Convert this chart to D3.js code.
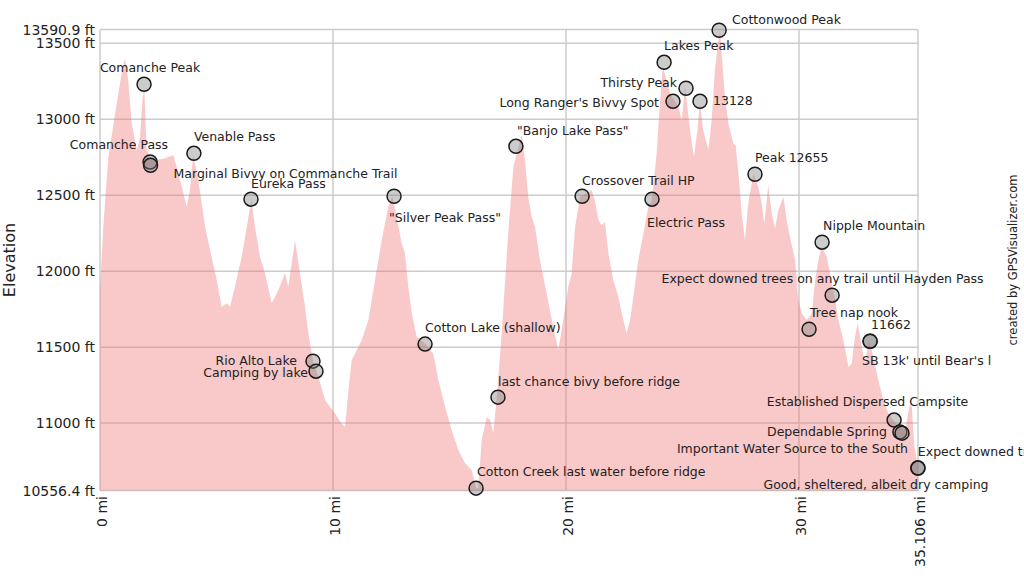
<!DOCTYPE html>
<html>
<head>
<meta charset="utf-8">
<script src="https://cdn.jsdelivr.net/npm/d3@7"></script>
<style>
  html, body { margin: 0; padding: 0; background: #fff; }
  svg { display: block; font-family: "DejaVu Sans", Verdana, sans-serif; }
</style>
</head>
<body>
<svg id="chart" width="1024" height="576"></svg>
<script>
// ---- data ----
const profileMiles = [0.00,0.14,0.36,0.72,0.93,1.07,1.21,1.36,1.58,1.72,1.82,1.90,2.00,2.15,2.36,2.79,3.15,3.29,3.51,3.72,3.86,4.00,4.22,4.51,4.79,5.01,5.22,5.44,5.58,5.79,6.08,6.30,6.44,6.50,6.65,6.87,7.08,7.37,7.65,7.94,8.08,8.37,8.58,8.80,8.94,9.15,9.37,9.66,10.09,10.37,10.52,10.66,10.80,11.23,11.52,11.80,12.09,12.37,12.55,12.73,12.95,13.09,13.23,13.38,13.59,13.95,14.30,14.52,14.81,15.09,15.38,15.67,15.95,16.14,16.24,16.38,16.60,16.74,16.88,17.03,17.24,17.52,17.74,17.96,18.10,18.24,18.38,18.53,18.67,18.88,19.17,19.45,19.67,19.88,20.10,20.24,20.39,20.60,21.10,21.24,21.39,21.53,21.67,21.82,22.03,22.24,22.46,22.60,22.75,22.89,23.10,23.32,23.53,23.68,23.89,24.03,24.15,24.32,24.46,24.82,24.97,25.11,25.32,25.49,25.64,25.75,25.89,26.11,26.25,26.39,26.54,26.61,26.68,26.82,26.97,27.18,27.28,27.40,27.54,27.68,27.82,28.04,28.25,28.40,28.51,28.68,28.83,28.97,29.11,29.33,29.47,29.61,29.83,29.97,30.12,30.33,30.55,30.69,30.83,30.97,31.19,31.33,31.55,31.69,31.90,32.12,32.26,32.40,32.52,32.69,32.83,33.00,33.19,33.40,33.62,33.83,34.26,34.55,34.76,34.84,34.95,35.106];
const profileElev = [11875,12291,12752,13105,13303,13401,13257,12974,12796,12884,13125,13213,12796,12752,12730,12743,12763,12686,12555,12423,12533,12763,12599,12291,12094,11941,11765,11789,11765,11897,12094,12291,12423,12474,12291,12094,11987,11789,11875,11987,11897,12204,11987,11765,11592,11403,11305,11151,11064,10998,10976,11217,11414,11546,11678,11941,12204,12423,12493,12357,12182,12116,11897,11722,11568,11524,11459,11283,11107,10954,10822,10735,10691,10572,10572,10888,11041,11020,10932,11173,11592,12250,12686,12818,12895,12730,12489,12357,12291,12072,11853,11634,11480,11678,11897,11985,12291,12489,12533,12467,12336,12303,12324,12116,11941,11831,11678,11590,11678,11831,12072,12248,12423,12467,12774,13103,13344,13257,13169,13081,12993,13213,12928,12752,12928,13103,12928,12796,12993,13322,13520,13586,13432,13147,12971,12840,12829,12643,12380,12204,12445,12643,12555,12445,12313,12566,12380,12281,12401,12489,12336,12226,12072,11809,11722,11678,11722,11941,12072,12160,12094,11985,11809,11678,11546,11370,11393,11568,11656,11502,11393,11546,11436,11283,11151,11064,10976,10954,11129,11107,10844,10712];

const waypointNames = ["Comanche Peak","Comanche Pass","Marginal Bivvy on Commanche Trail","Venable Pass","Eureka Pass","Rio Alto Lake","Camping by lake","\"Silver Peak Pass\"","Cotton Lake (shallow)","Cotton Creek last water before ridge","last chance bivy before ridge","\"Banjo Lake Pass\"","Crossover Trail HP","Electric Pass","Lakes Peak","Long Ranger's Bivvy Spot","Thirsty Peak","13128","Cottonwood Peak","Peak 12655","Nipple Mountain","Expect downed trees on any trail until Hayden Pass","Tree nap nook","11662","SB 13k' until Bear's l","Established Dispersed Campsite","Dependable Spring","Important Water Source to the South","Expect downed trees","Good, sheltered, albeit dry camping"];
const waypointMiles = [1.89,2.15,2.17,4.03,6.48,9.14,9.27,12.62,13.95,16.14,17.08,17.85,20.69,23.69,24.21,24.59,25.15,25.75,26.57,28.11,30.99,31.42,30.43,33.05,33.05,34.08,34.33,34.42,35.10,35.106];
const waypointElev = [13230,12719,12697,12776,12474,11408,11342,12493,11520,10572,11171,12822,12493,12474,13375,13118,13204,13118,13586,12638,12191,11842,11618,11539,11539,11020,10941,10934,10704,10704];

const yTickValues = [10556.4,11000,11500,12000,12500,13000,13500,13590.9];
const yTickLabels = ["10556.4 ft","11000 ft","11500 ft","12000 ft","12500 ft","13000 ft","13500 ft","13590.9 ft"];
const xTickValues = [0,10,20,30,35.106];
const xTickLabels = ["0 mi","10 mi","20 mi","30 mi","35.106 mi"];

// ---- label layout (offsets from marker centre, px) ----
const labelLayout = [
  [6,-12,"middle"],[18,-12.5,"end"],[23,12.5,"start"],[0,-12.5,"start"],[0,-11.5,"start"],
  [-16,3.5,"end"],[-8,5.5,"end"],[-5,25.5,"start"],[0,-12.5,"start"],[1,-12.5,"start"],
  [0,-11.5,"start"],[1,-11.5,"start"],[0,-11.5,"start"],[-5,27.5,"start"],[0,-12.5,"start"],
  [-14,5.5,"end"],[-9,-1.5,"end"],[13,3.5,"start"],[13,-6.5,"start"],[0,-12.5,"start"],
  [1,-12.5,"start"],[-9.5,-12.5,"middle"],[1,-12.5,"start"],[1,-12.5,"start"],[-8,23.5,"start"],
  [-26.5,-14.5,"middle"],[-13,3.5,"end"],[6,19.5,"end"],[0,-12.5,"start"],[-42,20.5,"middle"]
];

// ---- chart ----
const svg = d3.select("#chart");
const x = d3.scaleLinear().domain([0, 35.106]).range([100, 918]);
const y = d3.scaleLinear().domain([10556.4, 13590.9]).range([490.5, 29.5]);

const gridColor = "#cccccc";
const g = svg.append("g");

// horizontal grid
g.selectAll("line.hg").data(yTickValues).join("line")
  .attr("x1", x(0)).attr("x2", x(35.106))
  .attr("y1", d => y(d)).attr("y2", d => y(d))
  .attr("stroke", gridColor).attr("stroke-width", 1.5);
// vertical grid
g.selectAll("line.vg").data(xTickValues).join("line")
  .attr("x1", d => x(d)).attr("x2", d => x(d))
  .attr("y1", y(13590.9)).attr("y2", y(10556.4))
  .attr("stroke", gridColor).attr("stroke-width", 1.5);

// area profile
const profile = profileMiles.map((m, i) => ({ m, e: profileElev[i] }));
const area = d3.area().x(d => x(d.m)).y0(y(10556.4)).y1(d => y(d.e));
svg.append("path").datum(profile)
  .attr("d", area)
  .attr("fill", "rgb(240,110,110)")
  .attr("fill-opacity", 0.38);

// y tick labels
svg.append("g").selectAll("text").data(yTickValues).join("text")
  .attr("x", 95).attr("y", d => y(d)).attr("dy", "0.36em")
  .attr("text-anchor", "end").attr("font-size", 14).attr("fill", "#222")
  .text((d, i) => yTickLabels[i]);

// x tick labels (rotated)
svg.append("g").selectAll("text").data(xTickValues).join("text")
  .attr("transform", d => `translate(${x(d) + 7},496) rotate(-90)`)
  .attr("text-anchor", "end").attr("font-size", 14).attr("fill", "#222")
  .text((d, i) => xTickLabels[i]);

// axis title
svg.append("text")
  .attr("transform", "translate(15,260) rotate(-90)")
  .attr("text-anchor", "middle").attr("font-size", 16).attr("fill", "#222")
  .text("Elevation");

// credit
svg.append("text")
  .attr("transform", "translate(1017,260) rotate(-90)")
  .attr("text-anchor", "middle").attr("font-size", 11.5).attr("fill", "#222")
  .text("created by GPSVisualizer.com");

// waypoints
const wps = waypointNames.map((n, i) => ({ n, m: waypointMiles[i], e: waypointElev[i], l: labelLayout[i] }));
svg.append("g").selectAll("circle").data(wps).join("circle")
  .attr("cx", d => x(d.m)).attr("cy", d => y(d.e)).attr("r", 7)
  .attr("fill", "rgb(128,128,128)").attr("fill-opacity", 0.4)
  .attr("stroke", "#1a1a1a").attr("stroke-width", 1.5);

svg.append("g").selectAll("text").data(wps).join("text")
  .attr("x", d => x(d.m) + d.l[0]).attr("y", d => y(d.e) + d.l[1])
  .attr("text-anchor", d => d.l[2])
  .attr("font-size", 12.5).attr("fill", "#222")
  .text(d => d.n);
</script>
</body>
</html>
